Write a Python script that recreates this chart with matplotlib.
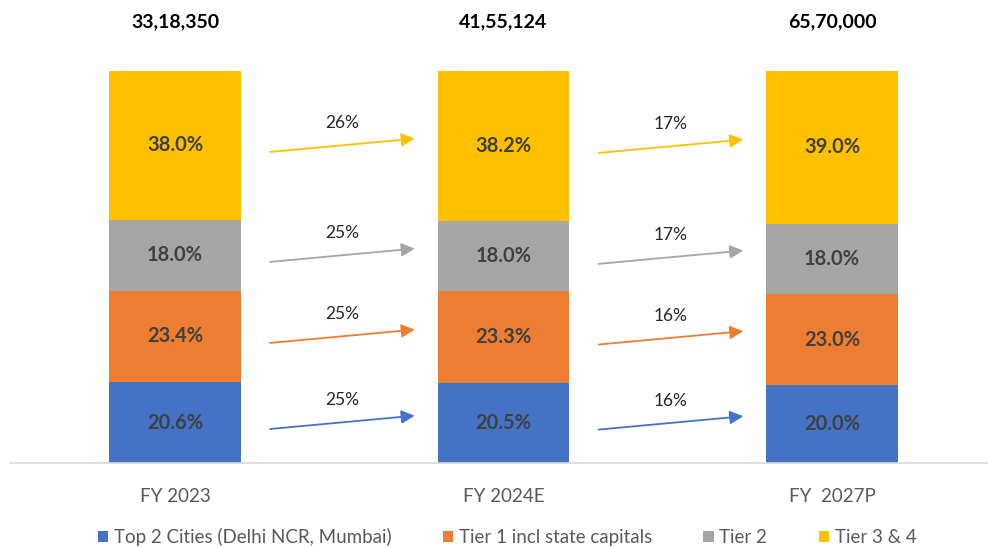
import numpy as np
import matplotlib.pyplot as plt

plt.rcParams['font.family'] = ['Lato', 'DejaVu Sans']

years = ['FY 2023', 'FY 2024E', 'FY  2027P']
totals = ['33,18,350', '41,55,124', '65,70,000']
series = ['Top 2 Cities (Delhi NCR, Mumbai)', 'Tier 1 incl state capitals', 'Tier 2', 'Tier 3 & 4']
colors = ['#4472C4', '#ED7D31', '#A5A5A5', '#FFC000']
shares = [
    [20.6, 20.5, 20.0],
    [23.4, 23.3, 23.0],
    [18.0, 18.0, 18.0],
    [38.0, 38.2, 39.0],
]
# growth (CAGR) between consecutive years, per series
growth = [
    ['25%', '16%'],
    ['25%', '16%'],
    ['25%', '17%'],
    ['26%', '17%'],
]

W, H = 988, 548
fig = plt.figure(figsize=(W / 100, H / 100), dpi=100)
ax = fig.add_axes([10 / W, (H - 463) / H, 977 / W, 392 / H])

x = np.arange(len(years))
bw = 0.40
bottom = np.zeros(len(years))
mids = []
for vals, col, name in zip(shares, colors, series):
    vals = np.array(vals)
    ax.bar(x, vals, bw, bottom=bottom, color=col, label=name)
    mid = bottom + vals / 2
    mids.append(mid)
    for xi, m, v in zip(x, mid, vals):
        ax.text(xi, m, f'{v:.1f}%', ha='center', va='center', fontsize=14.5,
                fontweight='bold', color='#404040')
    bottom = bottom + vals

# growth arrows between bars
for mid, col, g in zip(mids, colors, growth):
    for i in range(len(years) - 1):
        yc = (mid[i] + mid[i + 1]) / 2
        x0, x1 = i + 0.29, i + 0.73
        ax.annotate('', xy=(x1, yc + 1.8), xytext=(x0, yc - 1.6),
                    arrowprops=dict(arrowstyle='-|>', color=col, lw=1.3,
                                    mutation_scale=20, shrinkA=0, shrinkB=0))
        ax.text((x0 + x1) / 2, yc + 5.8, g[i], ha='center', va='center',
                fontsize=12.5, color='#262626')

for xi, t in zip(x, totals):
    ax.text(xi, 112.5, t, ha='center', va='center', fontsize=14,
            fontweight='bold', color='black', clip_on=False)

ax.set_xlim(-0.502, 2.472)
ax.set_ylim(0, 100)
ax.set_yticks([])
ax.set_xticks(x)
ax.set_xticklabels(years, fontsize=13.5, color='#595959')
ax.tick_params(axis='x', length=0, pad=18)
for s in ['top', 'right', 'left']:
    ax.spines[s].set_visible(False)
ax.spines['bottom'].set_color('#D9D9D9')
ax.spines['bottom'].set_linewidth(1.2)

fig.legend(loc='center', bbox_to_anchor=(507 / W, 1 - 537 / H), ncol=4,
           frameon=False, fontsize=13.5, handlelength=0.55, handleheight=0.55,
           handletextpad=0.3, columnspacing=2.75, labelcolor='#595959')

fig.savefig('out.png', dpi=100)
